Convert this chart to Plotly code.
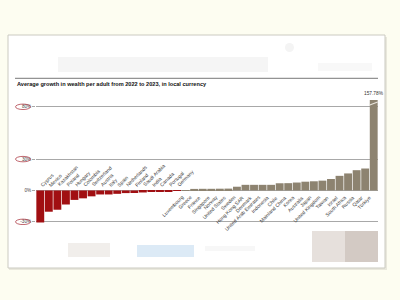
import plotly.graph_objects as go

categories = ["Cyprus", "Mexico", "Kazakhstan", "Poland", "Hungary", "Colombia",
              "Switzerland", "Austria", "Italy", "Spain", "Netherlands", "Finland",
              "Saudi Arabia", "India", "Canada", "Portugal", "Germany",
              "Luxembourg", "Greece", "France", "Singapore", "Norway", "United States",
              "Sweden", "Hong Kong SAR", "Denmark", "United Arab Emirates", "Indonesia",
              "Chile", "Mainland China", "Korea", "Australia", "Japan", "United Kingdom",
              "Taiwan", "Israel", "South Africa", "Russia", "Qatar", "Türkiye"]
values = [-30.6, -20.3, -18.4, -13.4, -9.0, -7.5,
          -5.6, -3.8, -3.8, -3.2, -2.5, -2.4,
          -1.9, -1.3, -1.0, -0.8, -0.5,
          0.2, 1.5, 1.6, 1.6, 1.7, 1.8,
          3.6, 5.4, 5.4, 5.4, 5.4,
          6.9, 7.0, 7.6, 8.4, 8.8, 9.4,
          11.0, 14.0, 16.3, 19.4, 21.0, 157.78]
tick_vals = [-30, 0, 30, 80]
tick_text = ["-30%", "0%", "30%", "80%"]
title_text = "Average growth in wealth per adult from 2022 to 2023, in local currency"

RED = "#a10f12"
GRAY = "#8d8370"
colors = [RED if v < 0 else GRAY for v in values]

W, H = 400, 300
L, R, T, B = 36, 22, 100, 75
PW, PH = W - L - R, H - T - B


def px(x):
    return (x - L) / PW


def py(y):
    return (H - B - y) / PH


fig = go.Figure(go.Bar(x=categories, y=values, marker=dict(color=colors, line=dict(width=0)),
                       hoverinfo="x+y"))

ann = []
lab_font = dict(size=5, color="#3a3a3a", family="Liberation Sans")
for i, (c, v) in enumerate(zip(categories, values)):
    if v < 0:
        ann.append(dict(x=i, y=0, xref="x", yref="y", text=c, textangle=-45, showarrow=False,
                        xanchor="left", yanchor="bottom", xshift=-4, yshift=0, font=lab_font))
    else:
        ann.append(dict(x=i, y=0, xref="x", yref="y", text=c, textangle=-45, showarrow=False,
                        xanchor="right", yanchor="top", xshift=2, yshift=-1, font=lab_font))

ann.append(dict(x=len(categories) - 1, y=py(93), xref="x", yref="paper",
                text=f"{values[-1]:.2f}%", showarrow=False, xanchor="center", yanchor="middle",
                font=dict(size=4.8, color="#333333", family="Liberation Sans")))
ann.append(dict(x=px(15), y=py(84), xref="paper", yref="paper", text="<b>" + title_text + "</b>",
                showarrow=False, xanchor="left", yanchor="middle",
                font=dict(size=5.6, color="#111111", family="Liberation Sans")))

shapes = []
# panel shadow and panel
shapes.append(dict(type="rect", xref="paper", yref="paper", x0=px(9), x1=px(387), y0=py(37), y1=py(270),
                   fillcolor="#e9e8dc", line=dict(width=0), layer="below"))
shapes.append(dict(type="rect", xref="paper", yref="paper", x0=px(8), x1=px(385), y0=py(35), y1=py(268),
                   fillcolor="#ffffff", line=dict(color="#cbcac1", width=1), layer="below"))
# blurred header content (very faint)
shapes.append(dict(type="rect", xref="paper", yref="paper", x0=px(58), x1=px(268), y0=py(57), y1=py(72),
                   fillcolor="#f5f5f5", line=dict(width=0), layer="below"))
shapes.append(dict(type="rect", xref="paper", yref="paper", x0=px(318), x1=px(372), y0=py(63), y1=py(71),
                   fillcolor="#f8f8f8", line=dict(width=0), layer="below"))
shapes.append(dict(type="circle", xref="paper", yref="paper", x0=px(285), x1=px(294), y0=py(43), y1=py(52),
                   fillcolor="#f4f4f4", line=dict(width=0), layer="below"))
# title rule
shapes.append(dict(type="line", xref="paper", yref="paper", x0=px(15), x1=px(378), y0=py(78.3), y1=py(78.3),
                   line=dict(color="#555555", width=0.8)))
# blurred footer content
shapes.append(dict(type="rect", xref="paper", yref="paper", x0=px(68), x1=px(110), y0=py(243), y1=py(257),
                   fillcolor="#f1eeeb", line=dict(width=0), layer="below"))
shapes.append(dict(type="rect", xref="paper", yref="paper", x0=px(137), x1=px(194), y0=py(245), y1=py(257),
                   fillcolor="#dceaf6", line=dict(width=0), layer="below"))
shapes.append(dict(type="rect", xref="paper", yref="paper", x0=px(205), x1=px(255), y0=py(246), y1=py(251),
                   fillcolor="#f7f7f7", line=dict(width=0), layer="below"))
shapes.append(dict(type="rect", xref="paper", yref="paper", x0=px(312), x1=px(345), y0=py(231), y1=py(262),
                   fillcolor="#e6e0dc", line=dict(width=0), layer="below"))
shapes.append(dict(type="rect", xref="paper", yref="paper", x0=px(345), x1=px(378), y0=py(231), y1=py(262),
                   fillcolor="#d3cac4", line=dict(width=0), layer="below"))
# red hand-drawn ovals around tick labels
for v in [80, 30, -30]:
    shapes.append(dict(type="circle", xref="paper", yref="y", x0=px(15.5), x1=px(30.5),
                       y0=v - 2.6, y1=v + 2.6, line=dict(color="#b0404a", width=0.8)))
# axis break mark on the truncated bar
n = len(categories) - 1
shapes.append(dict(type="line", xref="x", yref="paper", x0=n - 0.46, x1=n + 0.46, y0=py(105), y1=py(102),
                   line=dict(color="#e8e4dc", width=1.2)))

fig.update_layout(
    width=W, height=H,
    margin=dict(l=L, r=R, t=T, b=B, pad=0),
    paper_bgcolor="#fdfdf1", plot_bgcolor="rgba(0,0,0,0)",
    bargap=0.08, showlegend=False,
    annotations=ann, shapes=shapes,
    xaxis=dict(range=[-0.5, len(categories) - 0.5], showticklabels=False, showgrid=False,
               zeroline=False, showline=False, fixedrange=True),
    yaxis=dict(range=[-33, 86.5], tickvals=tick_vals, ticktext=tick_text,
               showgrid=True, gridcolor="#a8a8a8", gridwidth=0.8, zeroline=False,
               ticks="outside", ticklen=3, tickcolor="#a8a8a8", tickwidth=0.8,
               tickfont=dict(size=4.6, color="#444444", family="Liberation Sans"),
               showline=False, fixedrange=True),
    font=dict(family="Liberation Sans"),
)

fig.write_html("out.html")
